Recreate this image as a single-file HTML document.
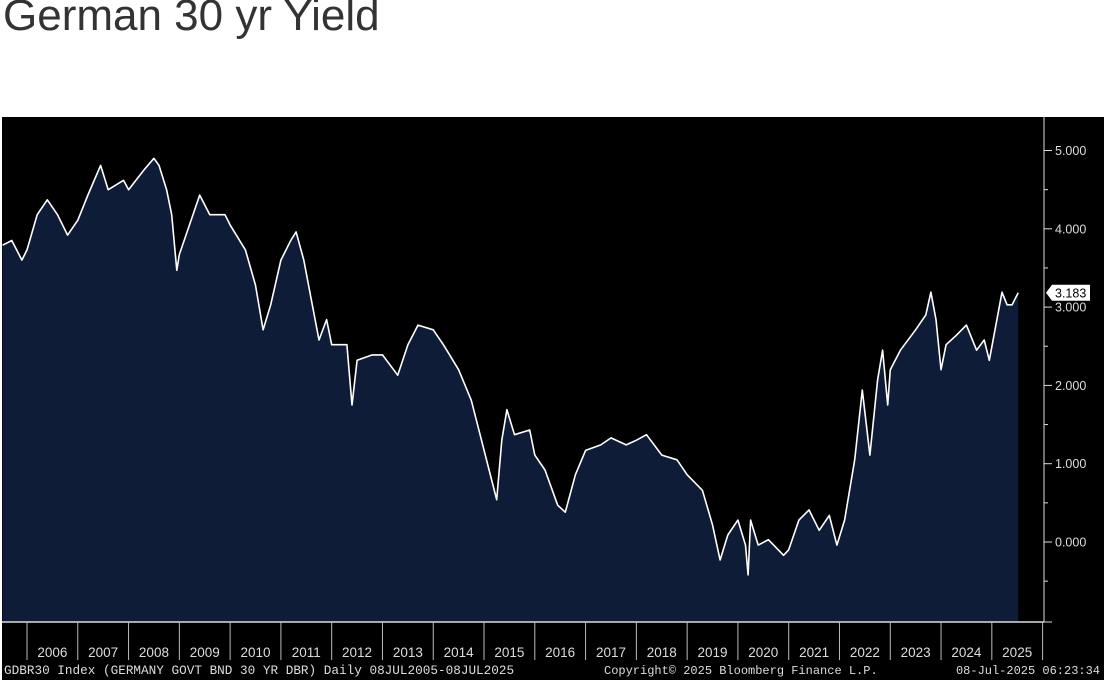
<!DOCTYPE html>
<html><head><meta charset="utf-8"><style>
body{margin:0;width:1104px;height:680px;background:#fff;overflow:hidden;font-family:"Liberation Sans",sans-serif}
#title{position:absolute;left:3px;top:-9px;font-size:44px;color:#333}
svg{position:absolute;left:0;top:0}
</style></head><body>
<div id="title">German 30 yr Yield</div>
<svg width="1104" height="680">
<rect x="2" y="117" width="1102" height="563" fill="#000"/>
<g id="g"></g>
</svg>
<script>
const years=[2005.52,2005.7,2005.9,2006.0,2006.2,2006.4,2006.6,2006.8,2007.0,2007.2,2007.45,2007.6,2007.9,2008.0,2008.3,2008.5,2008.6,2008.75,2008.85,2008.95,2009.0,2009.2,2009.4,2009.6,2009.9,2010.0,2010.3,2010.5,2010.65,2010.8,2011.0,2011.2,2011.3,2011.45,2011.6,2011.75,2011.9,2012.0,2012.3,2012.4,2012.5,2012.8,2013.0,2013.3,2013.5,2013.7,2014.0,2014.2,2014.5,2014.75,2014.95,2015.1,2015.25,2015.35,2015.45,2015.6,2015.9,2016.0,2016.2,2016.45,2016.6,2016.8,2017.0,2017.3,2017.5,2017.8,2018.0,2018.2,2018.5,2018.8,2019.0,2019.3,2019.5,2019.65,2019.8,2020.0,2020.15,2020.2,2020.25,2020.4,2020.6,2020.9,2021.0,2021.2,2021.4,2021.6,2021.8,2021.95,2022.1,2022.3,2022.45,2022.6,2022.75,2022.85,2022.95,2023.0,2023.2,2023.5,2023.7,2023.8,2023.9,2024.0,2024.1,2024.3,2024.5,2024.7,2024.85,2024.95,2025.1,2025.2,2025.3,2025.4,2025.52];
const yields=[3.79,3.85,3.6,3.73,4.18,4.37,4.18,3.92,4.11,4.43,4.81,4.5,4.62,4.5,4.75,4.9,4.81,4.5,4.18,3.47,3.67,4.05,4.43,4.18,4.18,4.05,3.73,3.28,2.71,3.03,3.6,3.86,3.96,3.6,3.09,2.58,2.84,2.52,2.52,1.75,2.32,2.39,2.39,2.13,2.52,2.77,2.71,2.52,2.2,1.81,1.3,0.92,0.54,1.3,1.69,1.37,1.43,1.11,0.92,0.47,0.38,0.86,1.17,1.24,1.33,1.24,1.3,1.37,1.11,1.05,0.86,0.66,0.22,-0.23,0.09,0.28,-0.04,-0.42,0.28,-0.04,0.03,-0.17,-0.1,0.28,0.41,0.15,0.34,-0.04,0.28,1.05,1.94,1.11,2.07,2.45,1.75,2.2,2.45,2.71,2.9,3.19,2.84,2.2,2.52,2.64,2.77,2.45,2.58,2.32,2.84,3.19,3.03,3.03,3.183];
const yTicks=[0,1,2,3,4,5];
const yearLabels=[2006,2007,2008,2009,2010,2011,2012,2013,2014,2015,2016,2017,2018,2019,2020,2021,2022,2023,2024,2025];
const lastLabel="3.183";
const X=t=>27+(t-2006)*50.78, Y=v=>542-v*78.3;
const NS="http://www.w3.org/2000/svg",g=document.getElementById('g');
function mk(tag,a){const e=document.createElementNS(NS,tag);for(const k in a)e.setAttribute(k,a[k]);g.appendChild(e);return e;}
const bottom=622;
let pts=years.map((t,i)=>X(t).toFixed(1)+','+Y(yields[i]).toFixed(1));
const area=mk('polygon',{points:X(years[0])+','+bottom+' '+pts.join(' ')+' '+X(years[years.length-1])+','+bottom,fill:'#0f1c38'});


const line=mk('polyline',{points:pts.join(' '),fill:'none',stroke:'#fff','stroke-width':1.6,'stroke-linejoin':'round'});


const ax=mk('line',{x1:1044,y1:117,x2:1044,y2:bottom,stroke:'#ddd','stroke-width':1});


const bx=mk('line',{x1:2,y1:bottom,x2:1044,y2:bottom,stroke:'#ddd','stroke-width':1.5});


for(let v=-0.5;v<=5.01;v+=0.5){const m=Math.abs(v%1)<0.01;mk('line',{x1:1044,y1:Y(v),x2:1044+(m?8:4),y2:Y(v),stroke:'#ddd'});}
mk('line',{x1:1044,y1:bottom,x2:1052,y2:bottom,stroke:'#ddd'});
yTicks.forEach(v=>{const t=mk('text',{x:1055,y:Y(v)+4.5,fill:'#ddd','font-size':12.5});t.textContent=v.toFixed(3);

});
yearLabels.forEach(yr=>{
 mk('line',{x1:X(yr),y1:bottom,x2:X(yr),y2:660,stroke:'#bbb','stroke-width':1});
 const t=mk('text',{x:X(yr+0.5),y:657,fill:'#ddd','font-size':13.5,'text-anchor':'middle'});t.textContent=yr;
 
 });
mk('line',{x1:X(2026),y1:bottom,x2:X(2026),y2:660,stroke:'#bbb'});
const ly=Y(yields[yields.length-1]);
const tag=mk('polygon',{points:`1046,${ly} 1052,${ly-8} 1090,${ly-8} 1090,${ly+8} 1052,${ly+8}`,fill:'#fff'});


const lt=mk('text',{x:1055,y:ly+4.5,fill:'#000','font-size':12.5});lt.textContent=lastLabel;


const f1=mk('text',{x:4,y:674,fill:'#ddd','font-size':12.7,'font-family':'Liberation Mono, monospace'});f1.textContent="GDBR30 Index (GERMANY GOVT BND 30 YR DBR)  Daily 08JUL2005-08JUL2025";


const f2=mk('text',{x:604,y:674,fill:'#ddd','font-size':12,'font-family':'Liberation Mono, monospace'});f2.textContent="Copyright© 2025 Bloomberg Finance L.P.";


const f3=mk('text',{x:1100,y:674,fill:'#ddd','font-size':12,'font-family':'Liberation Mono, monospace','text-anchor':'end'});f3.textContent="08-Jul-2025 06:23:34";


</script>
</body></html>
